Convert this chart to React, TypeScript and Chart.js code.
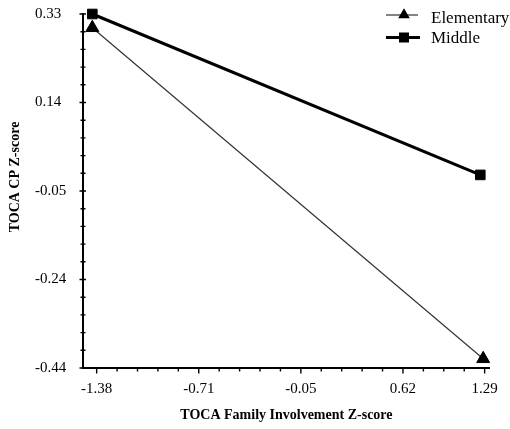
import React, { useEffect, useRef } from 'react';
import { Chart, registerables } from 'chart.js';

Chart.register(...registerables);

// ---- data ----
const seriesNames = ['Elementary', 'Middle'];
const elementaryX = [-1.41, 1.28];
const elementaryY = [0.3, -0.42];
const middleX = [-1.41, 1.26];
const middleY = [0.33, -0.02];
const xTickLabels = ['-1.38', '-0.71', '-0.05', '0.62', '1.29'];
const yTickLabels = ['-0.44', '-0.24', '-0.05', '0.14', '0.33'];
const xTitle = 'TOCA Family Involvement Z-score';
const yTitle = 'TOCA CP Z-score';

// ---- axis geometry ----
const X_MIN = -1.474;
const X_MAX = 1.326;
const X_FIRST = -1.38;
const X_STEP = 2.67 / 19;
const X_MAJOR_STEPS = [0, 5, 10, 15, 19];
const Y_MIN = -0.44;
const Y_MAX = 0.33;
const Y_DIV = 20;

const FONT = 'Liberation Serif';

const axisTicksPlugin = {
  id: 'axisTicks',
  afterDraw(chart: any) {
    const { ctx, chartArea } = chart;
    const xs = chart.scales.x;
    const ys = chart.scales.y;
    ctx.save();
    ctx.strokeStyle = '#000';
    ctx.lineWidth = 1.4;
    ctx.beginPath();
    for (let k = 0; k <= Y_DIV; k++) {
      const py = ys.getPixelForValue(Y_MIN + (k * (Y_MAX - Y_MIN)) / Y_DIV);
      const major = k % 5 === 0;
      ctx.moveTo(chartArea.left - (major ? 3.5 : 2.5), py);
      ctx.lineTo(chartArea.left + (major ? 3 : 2.5), py);
    }
    for (let k = 0; k <= 19; k++) {
      const px = xs.getPixelForValue(X_FIRST + k * X_STEP);
      const major = X_MAJOR_STEPS.includes(k);
      ctx.moveTo(px, chartArea.bottom);
      ctx.lineTo(px, chartArea.bottom + (major ? 5.5 : 3.5));
    }
    ctx.stroke();
    ctx.restore();
  },
};

const legendPlugin = {
  id: 'lineLegend',
  afterDraw(chart: any) {
    const { ctx } = chart;
    ctx.save();
    // Elementary
    ctx.strokeStyle = '#333';
    ctx.lineWidth = 1.2;
    ctx.beginPath();
    ctx.moveTo(386, 15);
    ctx.lineTo(418, 15);
    ctx.stroke();
    const r = 6.7;
    ctx.fillStyle = '#000';
    ctx.beginPath();
    ctx.moveTo(404, 15 - r);
    ctx.lineTo(404 + r * Math.sin((2 * Math.PI) / 3), 15 + r / 2);
    ctx.lineTo(404 - r * Math.sin((2 * Math.PI) / 3), 15 + r / 2);
    ctx.closePath();
    ctx.fill();
    // Middle
    ctx.strokeStyle = '#000';
    ctx.lineWidth = 3;
    ctx.beginPath();
    ctx.moveTo(386, 37.5);
    ctx.lineTo(420, 37.5);
    ctx.stroke();
    ctx.fillRect(399, 32.5, 10, 10);
    ctx.font = `17px "${FONT}"`;
    ctx.textBaseline = 'alphabetic';
    ctx.textAlign = 'left';
    ctx.fillText(seriesNames[0], 431, 23);
    ctx.fillText(seriesNames[1], 431, 43);
    ctx.restore();
  },
};

export default function App() {
  const ref = useRef<HTMLCanvasElement | null>(null);

  useEffect(() => {
    if (!ref.current) return;
    const chart = new Chart(ref.current, {
      type: 'line',
      data: {
        datasets: [
          {
            label: seriesNames[0],
            data: elementaryX.map((x, i) => ({ x, y: elementaryY[i] })),
            borderColor: '#333',
            borderWidth: 1.2,
            pointStyle: 'triangle',
            pointRadius: 7.5,
            pointBackgroundColor: '#000',
            pointBorderColor: '#000',
            pointBorderWidth: 1,
            clip: false,
            tension: 0,
            order: 1,
          },
          {
            label: seriesNames[1],
            data: middleX.map((x, i) => ({ x, y: middleY[i] })),
            borderColor: '#000',
            borderWidth: 3,
            pointStyle: 'rect',
            pointRadius: 6.8,
            pointBackgroundColor: '#000',
            pointBorderColor: '#000',
            pointBorderWidth: 1,
            clip: false,
            tension: 0,
            order: 0,
          },
        ],
      } as any,
      options: {
        animation: false,
        responsive: true,
        maintainAspectRatio: false,
        layout: { padding: { left: 35, top: 14, right: 18, bottom: 0 } },
        plugins: { legend: { display: false }, tooltip: { enabled: false } },
        scales: {
          x: {
            type: 'linear',
            min: X_MIN,
            max: X_MAX,
            bounds: 'data',
            grid: { display: false, drawTicks: false },
            border: { display: true, color: '#000', width: 2 },
            afterBuildTicks: (s: any) => {
              s.ticks = X_MAJOR_STEPS.map((k) => ({ value: X_FIRST + k * X_STEP }));
            },
            afterFit: (s: any) => {
              s.height = 61;
            },
            ticks: {
              autoSkip: false,
              maxRotation: 0,
              padding: 12,
              color: '#000',
              font: { family: FONT, size: 15 },
              callback: (_v: any, i: number) => xTickLabels[i],
            },
            title: {
              display: true,
              text: xTitle,
              color: '#000',
              font: { family: FONT, size: 14, weight: 'bold' },
              padding: { top: 0, bottom: 5.6 },
            },
          },
          y: {
            type: 'linear',
            min: Y_MIN,
            max: Y_MAX,
            bounds: 'data',
            grid: { display: false, drawTicks: false },
            border: { display: true, color: '#000', width: 2 },
            afterBuildTicks: (s: any) => {
              s.ticks = yTickLabels.map((_l, k) => ({
                value: Y_MIN + (k * (Y_MAX - Y_MIN)) / (yTickLabels.length - 1),
              }));
            },
            afterFit: (s: any) => {
              s.width = 48;
            },
            ticks: {
              autoSkip: false,
              crossAlign: 'far',
              color: '#000',
              font: { family: FONT, size: 15 },
              callback: (_v: any, i: number) => yTickLabels[i],
            },
            title: {
              display: true,
              text: '        ' + yTitle,
              color: '#000',
              font: { family: FONT, size: 14, weight: 'bold' },
              padding: { top: -28.4, bottom: 0 },
            },
          },
        },
      } as any,
      plugins: [axisTicksPlugin, legendPlugin],
    });
    return () => chart.destroy();
  }, []);

  return (
    <div
      style={{
        position: 'fixed',
        left: 0,
        top: 0,
        width: 510,
        height: 429,
        background: '#fff',
      }}
    >
      <canvas ref={ref} />
    </div>
  );
}
